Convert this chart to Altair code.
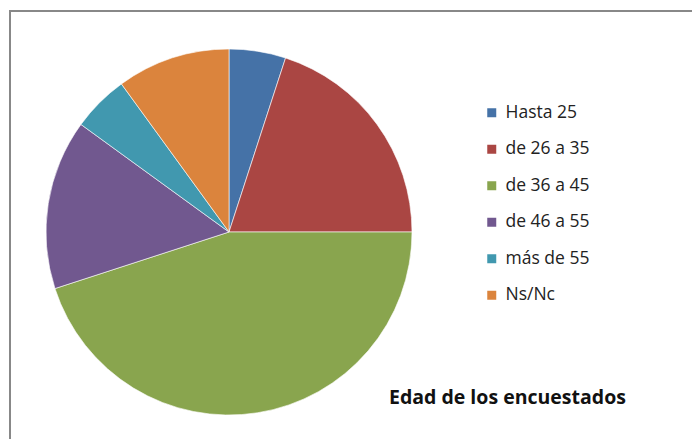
import altair as alt
import pandas as pd

categories = ["Hasta 25", "de 26 a 35", "de 36 a 45", "de 46 a 55", "más de 55", "Ns/Nc"]
values = [5, 20, 45, 15, 5, 10]
colors = ["#4572A7", "#AA4643", "#89A54E", "#71588F", "#4198AF", "#DB843D"]
title_text = "Edad de los encuestados"

df = pd.DataFrame({"cat": categories, "val": values, "idx": list(range(len(categories)))})

W, H = 684, 431
FONT = "Open Sans"

pie = alt.Chart(df).mark_arc(radius=183, stroke="white", strokeWidth=0.6).encode(
    theta=alt.Theta("val:Q", stack=True),
    order=alt.Order("idx:Q", sort="ascending"),
    color=alt.Color(
        "cat:N",
        scale=alt.Scale(domain=categories, range=colors),
        sort=categories,
        legend=alt.Legend(
            title=None,
            orient="none",
            legendX=475,
            legendY=96,
            symbolType="square",
            symbolSize=81,
            symbolStrokeWidth=0,
            labelFontSize=17.5,
            labelFont=FONT,
            labelColor="#222222",
            rowPadding=17.5,
            labelOffset=5,
            padding=0,
        ),
    ),
    x=alt.value(221),
    y=alt.value(224),
)

frame_left = alt.Chart(pd.DataFrame({"k": [0]})).mark_rule(color="#888888", strokeWidth=2).encode(
    x=alt.value(2), y=alt.value(3), y2=alt.value(H)
)
frame_top = alt.Chart(pd.DataFrame({"k": [0]})).mark_rule(color="#888888", strokeWidth=2).encode(
    x=alt.value(1), x2=alt.value(W), y=alt.value(3)
)

title = alt.Chart(pd.DataFrame({"t": [title_text]})).mark_text(
    align="left", baseline="middle", font=FONT, fontSize=19.5, fontWeight="bold", color="#111111"
).encode(text="t:N", x=alt.value(381), y=alt.value(390))

chart = alt.layer(frame_left, frame_top, pie, title).properties(
    width=W, height=H, padding=0, autosize=alt.AutoSizeParams(type="none")
).configure_view(stroke=None)

chart.save("out.html", embed_options={"renderer": "svg", "actions": False})
